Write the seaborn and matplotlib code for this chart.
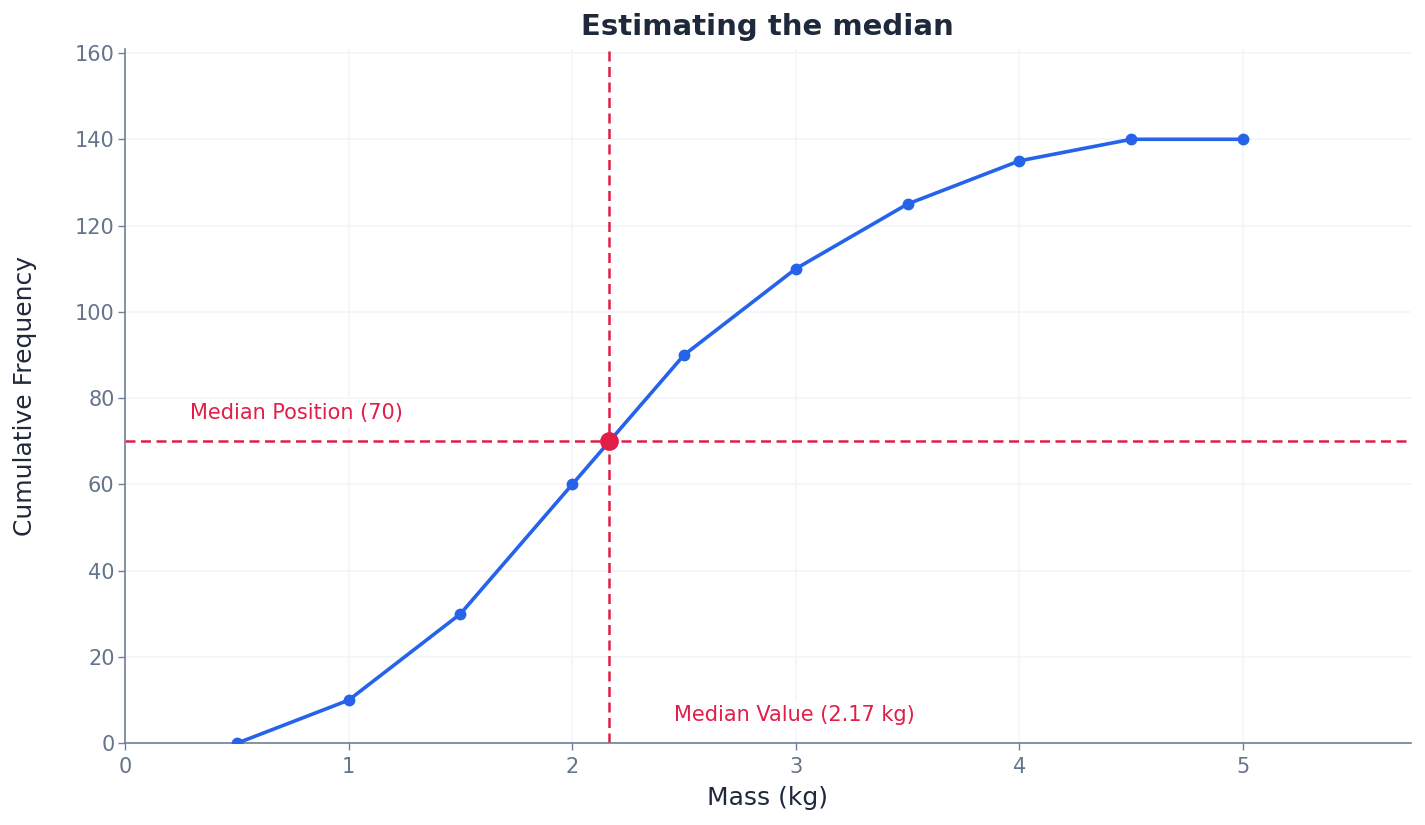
import numpy as np
import pandas as pd
import matplotlib
matplotlib.use("Agg")
import matplotlib.pyplot as plt
import seaborn as sns

mass_kg = [0.5, 1.0, 1.5, 2.0, 2.5, 3.0, 3.5, 4.0, 4.5, 5.0]
cum_freq = [0, 10, 30, 60, 90, 110, 125, 135, 140, 140]
median_position = 70
median_value = 2.17

BLUE = "#2563eb"
RED = "#e11d48"
DARK = "#1e293b"
TICK = "#64748b"
SPINE = "#718096"


def main():
    sns.set_theme(style="white")
    plt.rcParams["font.family"] = ["DejaVu Sans"]

    df = pd.DataFrame({"mass": mass_kg, "cf": cum_freq})
    # median by linear interpolation on the ogive
    med_x = float(np.interp(median_position, df["cf"], df["mass"]))

    fig, ax = plt.subplots(figsize=(14.25, 8.25), dpi=100)
    ax.grid(True, color="#f1f5f9", linewidth=1.2)
    ax.set_axisbelow(True)

    sns.lineplot(data=df, x="mass", y="cf", ax=ax, color=BLUE, linewidth=2.6,
                 marker="o", markersize=8.5, markeredgewidth=0, zorder=3)

    ax.axhline(median_position, color=RED, linestyle="--", linewidth=1.8,
               dashes=(4, 2.2), zorder=2)
    ax.axvline(med_x, color=RED, linestyle="--", linewidth=1.8,
               dashes=(4, 2.2), zorder=2)
    ax.plot([med_x], [median_position], "o", color=RED, markersize=13.5,
            markeredgewidth=0, zorder=4)

    ax.text(0.29, 76.5, f"Median Position ({median_position})", color=RED,
            fontsize=15, ha="left", va="center",
            bbox=dict(facecolor="white", edgecolor="none", pad=3))
    ax.text(med_x + 0.29, 6.5, f"Median Value ({median_value:.2f} kg)", color=RED,
            fontsize=15, ha="left", va="center",
            bbox=dict(facecolor="white", edgecolor="none", pad=3))

    ax.set_xlim(0, max(mass_kg) * 1.15)
    ax.set_ylim(0, max(cum_freq) * 1.15)
    ax.set_xticks([0, 1, 2, 3, 4, 5])
    ax.set_yticks(np.arange(0, 161, 20))

    ax.set_title("Estimating the median", fontsize=21, fontweight="bold",
                 color=DARK, pad=10)
    ax.set_xlabel("Mass (kg)", fontsize=18, color=DARK, labelpad=6)
    ax.set_ylabel("Cumulative Frequency", fontsize=18, color=DARK, labelpad=27)

    for side in ["top", "right"]:
        ax.spines[side].set_visible(False)
    for side in ["left", "bottom"]:
        ax.spines[side].set_color(SPINE)
        ax.spines[side].set_linewidth(1.2)
    ax.tick_params(axis="both", colors=SPINE, labelcolor=TICK, labelsize=15,
                   length=5, width=1, left=True, bottom=True)
    ax.tick_params(axis="y", pad=2.5)
    ax.tick_params(axis="x", pad=5)

    fig.subplots_adjust(left=0.0877, right=0.990, top=0.941, bottom=0.099)
    plt.savefig("out.png", dpi=100)
    plt.close()


if __name__ == "__main__":
    main()
